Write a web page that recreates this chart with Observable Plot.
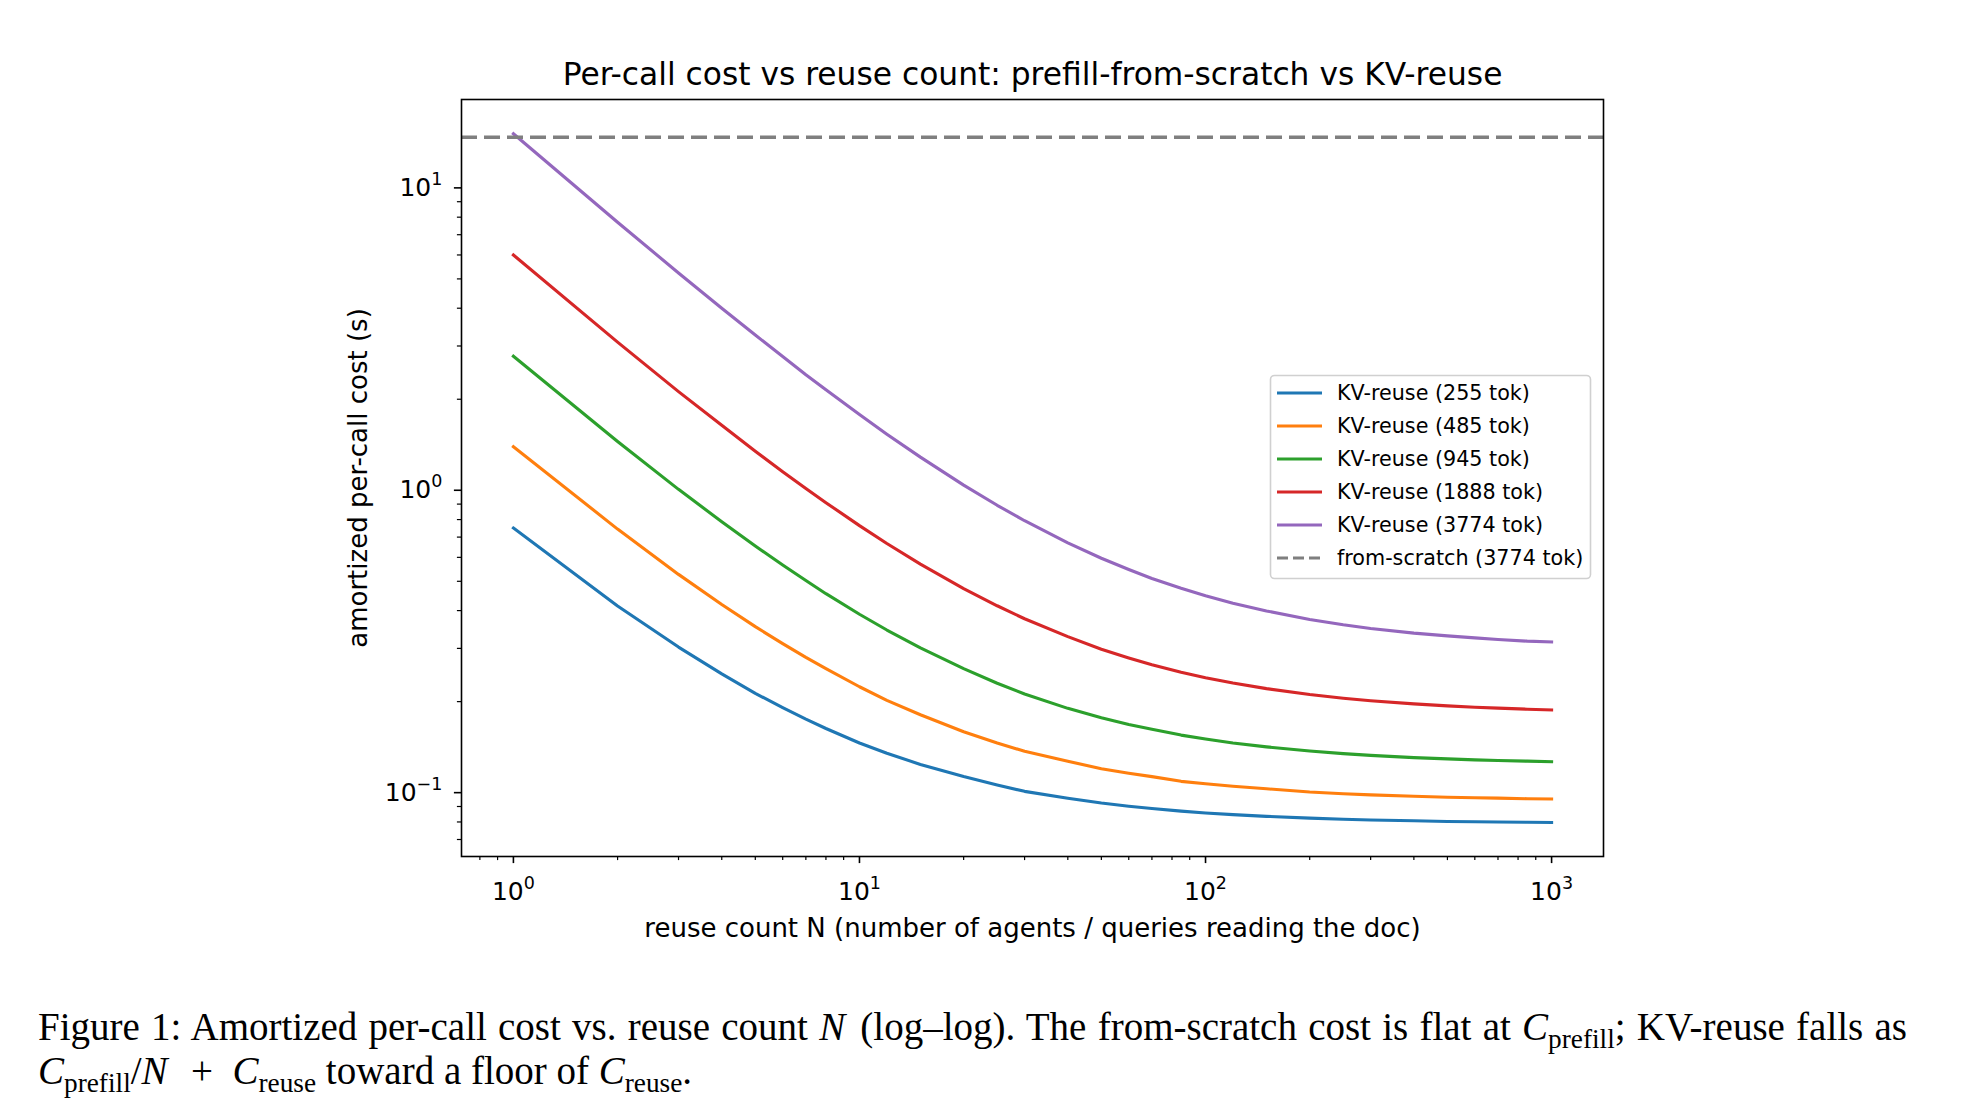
<!DOCTYPE html>
<html><head><meta charset="utf-8">
<script src="https://cdn.jsdelivr.net/npm/d3@7"></script>
<script src="https://cdn.jsdelivr.net/npm/@observablehq/plot@0.6"></script>
<style>
html,body{margin:0;padding:0;background:#fff;}
body{width:1982px;height:1118px;overflow:hidden;position:relative;font-family:"DejaVu Sans";}
#chart{position:absolute;left:0;top:0;}
#legend{position:absolute;left:0;top:0;}
#caption{position:absolute;left:38px;top:1005px;font-family:"Liberation Serif";font-size:39px;line-height:44px;color:#000;white-space:nowrap;}
#caption .sb{font-size:0.7em;position:relative;top:0.3em;font-style:normal;line-height:0;}
#caption i{font-style:italic;}
#caption .m{padding-right:0.1em;}
#caption .op{margin:0 0.5em;}
</style>
</head><body>
<div id="chart"></div>
<svg id="legend" width="1982" height="960"></svg>
<div id="caption"><div id="cap1"><span id="cap1s">Figure 1: Amortized per-call cost vs. reuse count <i class="m">N</i> (log–log). The from-scratch cost is flat at <i>C</i><span class="sb">prefill</span>; KV-reuse falls as</span></div><div id="cap2"><i>C</i><span class="sb">prefill</span>/<i class="m">N</i><span class="op">+</span><i>C</i><span class="sb">reuse</span> toward a floor of <i>C</i><span class="sb">reuse</span>.</div></div>
<script>
// ---- data ----
const reuseN = [1,2,3,4,5,6,7,8,10,12,15,20,25,30,40,50,60,70,85,100,120,150,200,250,300,400,500,600,700,850,1000];
const cost255  = [0.750,0.414,0.303,0.247,0.213,0.191,0.175,0.163,0.146,0.135,0.124,0.113,0.106,0.101,0.0958,0.0924,0.0902,0.0886,0.0869,0.0857,0.0846,0.0835,0.0824,0.0817,0.0812,0.0807,0.0803,0.0801,0.0800,0.0798,0.0797];
const cost485  = [1.394,0.744,0.527,0.419,0.354,0.311,0.280,0.257,0.224,0.202,0.181,0.159,0.146,0.137,0.127,0.120,0.116,0.113,0.109,0.107,0.105,0.103,0.1005,0.0992,0.0983,0.0973,0.0966,0.0962,0.0959,0.0955,0.0953];
const cost945  = [2.774,1.449,1.007,0.787,0.654,0.566,0.503,0.455,0.389,0.345,0.301,0.257,0.230,0.212,0.190,0.177,0.168,0.162,0.155,0.1505,0.146,0.1417,0.1373,0.1346,0.1328,0.1306,0.1293,0.1284,0.1278,0.1271,0.1266];
const cost1888 = [6.00,3.09,2.12,1.64,1.346,1.152,1.013,0.910,0.764,0.667,0.570,0.473,0.415,0.376,0.328,0.298,0.279,0.265,0.250,0.240,0.2305,0.2208,0.2111,0.2053,0.2014,0.1966,0.1936,0.1917,0.1903,0.1888,0.1878];
const cost3774 = [15.1,7.70,5.23,4.00,3.26,2.77,2.41,2.15,1.78,1.533,1.287,1.04,0.892,0.793,0.670,0.596,0.547,0.511,0.474,0.448,0.423,0.399,0.374,0.359,0.349,0.337,0.330,0.325,0.321,0.317,0.315];
const fromScratchCost = 14.7;
const seriesLabels = ["KV-reuse (255 tok)","KV-reuse (485 tok)","KV-reuse (945 tok)","KV-reuse (1888 tok)","KV-reuse (3774 tok)"];
const fromScratchLabel = "from-scratch (3774 tok)";
const seriesColors = ["#1f77b4","#ff7f0e","#2ca02c","#d62728","#9467bd"];
const scratchColor = "#7f7f7f";
const xMajor = [1,10,100,1000];
const yMajor = [0.1,1,10];
const titleText = "Per-call cost vs reuse count: prefill-from-scratch vs KV-reuse";
const xLabel = "reuse count N (number of agents / queries reading the doc)";
const yLabel = "amortized per-call cost (s)";

const allSeries = [cost255,cost485,cost945,cost1888,cost3774];
const rows = [];
allSeries.forEach((vals,i)=>vals.forEach((v,j)=>rows.push({N:reuseN[j],cost:v,series:seriesLabels[i]})));

const xMinor = [];
[0.1,1,10,100].forEach(d=>{for(let k=2;k<=9;k++){const v=+(d*k).toPrecision(3); if(v>0.708 && v<1413) xMinor.push(v);}});
const yMinor = [];
[0.01,0.1,1,10].forEach(d=>{for(let k=2;k<=9;k++){const v=+(d*k).toPrecision(3); if(v>0.0615 && v<19.6) yMinor.push(v);}});

const W=1982,H=960,ML=461,MR=379,MT=99,MB=104;
const supFmt = d=>"10^"+Math.round(Math.log10(d));

const marks = [];
seriesLabels.forEach((s,i)=>{
  marks.push(Plot.line(rows.filter(r=>r.series===s),{x:"N",y:"cost",stroke:seriesColors[i],strokeWidth:3.1,strokeLinecap:"square",strokeLinejoin:"round"}));
});
marks.push(Plot.ruleY([fromScratchCost],{stroke:scratchColor,strokeWidth:3.4,strokeDasharray:"16,7"}));
marks.push(Plot.axisX({ticks:xMajor,tickSize:7.1,tickPadding:19,tickFormat:supFmt,label:null,strokeWidth:1.6,fontSize:25}));
marks.push(Plot.axisX({ticks:xMinor,tickSize:4.1,tickFormat:()=>"",label:null,strokeWidth:1.2}));
marks.push(Plot.axisY({ticks:yMajor,tickSize:7.1,tickPadding:12,tickFormat:supFmt,label:null,strokeWidth:1.6,fontSize:25}));
marks.push(Plot.axisY({ticks:yMinor,tickSize:4.1,tickFormat:()=>"",label:null,strokeWidth:1.2}));
marks.push(Plot.frame({stroke:"#000",strokeWidth:1.6}));
marks.push(Plot.text([titleText],{frameAnchor:"top",dy:-15,lineAnchor:"bottom",fontSize:31.3,fill:"#000"}));
marks.push(Plot.text([xLabel],{frameAnchor:"bottom",dy:80,lineAnchor:"bottom",fontSize:26,fill:"#000"}));
marks.push(Plot.text([yLabel],{frameAnchor:"left",dx:-103,rotate:-90,textAnchor:"middle",lineAnchor:"middle",fontSize:26,fill:"#000"}));

const chart = Plot.plot({
  width:W,height:H,marginLeft:ML,marginRight:MR,marginTop:MT,marginBottom:MB,
  x:{type:"log",domain:[Math.pow(10,-0.15),Math.pow(10,3.15)]},
  y:{type:"log",domain:[0.0615,19.6]},
  style:{fontFamily:"DejaVu Sans",fontSize:"25px",color:"#000",background:"transparent",overflow:"visible"},
  marks
});
document.getElementById("chart").appendChild(chart);

// superscript tick labels
d3.select(chart).selectAll("text").each(function(){
  const t=this.textContent; const m=/^10\^(-?\d+)$/.exec(t);
  if(!m) return;
  const el=d3.select(this); el.text("");
  el.append("tspan").text("10");
  el.append("tspan").attr("dy","-11").attr("font-size","17.5px").text(m[1].replace("-","\u2212"));
});

// legend
const lg=d3.select("#legend");
lg.append("rect").attr("x",1270.5).attr("y",375.5).attr("width",320).attr("height",203).attr("rx",4)
  .attr("fill","rgba(255,255,255,0.8)").attr("stroke","#d0d0d0").attr("stroke-width",1.6);
const entries = seriesLabels.map((s,i)=>({label:s,color:seriesColors[i],dash:null}))
  .concat([{label:fromScratchLabel,color:scratchColor,dash:"11,5"}]);
entries.forEach((e,i)=>{
  const y=393+i*33;
  lg.append("line").attr("x1",1277).attr("x2",1322).attr("y1",y).attr("y2",y)
    .attr("stroke",e.color).attr("stroke-width",3.1).attr("stroke-dasharray",e.dash);
  lg.append("text").attr("x",1337).attr("y",y).attr("dy","0.36em").attr("font-size","20.7px")
    .attr("font-family","DejaVu Sans").attr("fill","#000").text(e.label);
});

// justify first caption line
const s1=document.getElementById("cap1s");
const target=1869;
const w=s1.getBoundingClientRect().width;
const nSpaces=(s1.textContent.match(/ /g)||[]).length;
s1.style.wordSpacing=((target-w)/nSpaces)+"px";
</script>
</body></html>
